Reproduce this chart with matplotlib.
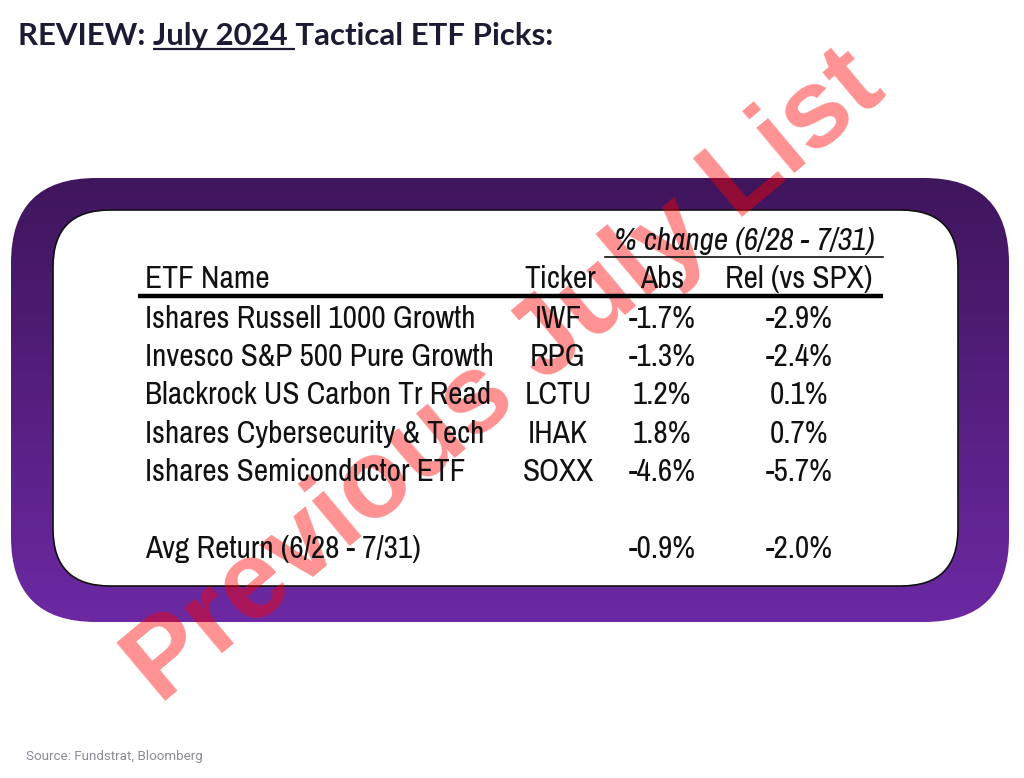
import numpy as np
import matplotlib
matplotlib.use("Agg")
import matplotlib.pyplot as plt
from matplotlib.patches import FancyBboxPatch
from matplotlib.colors import LinearSegmentedColormap
from matplotlib import font_manager

# Table data
etf_names = [
    "Ishares Russell 1000 Growth",
    "Invesco S&P 500 Pure Growth",
    "Blackrock US Carbon Tr Read",
    "Ishares Cybersecurity & Tech",
    "Ishares Semiconductor ETF",
]
tickers = ["IWF", "RPG", "LCTU", "IHAK", "SOXX"]
abs_chg = [-1.7, -1.3, 1.2, 1.8, -4.6]
rel_chg = [-2.9, -2.4, 0.1, 0.7, -5.7]
period = "6/28 - 7/31"

avg_abs = np.mean(abs_chg)
avg_rel = np.mean(rel_chg)

# narrow face for the table, whatever is installed
names_avail = {f.name for f in font_manager.fontManager.ttflist}
wanted = ["Liberation Sans Narrow", "Arial Narrow", "Archivo Narrow", "Roboto Condensed", "Liberation Sans"]
table_font = [f for f in wanted if f in names_avail][:1] + ["DejaVu Sans"]

fig = plt.figure(figsize=(10.24, 7.78), dpi=100)
ax = fig.add_axes([0, 0, 1, 1])
ax.set_xlim(0, 1024)
ax.set_ylim(778, 0)
ax.axis("off")
renderer = fig.canvas.get_renderer()


def width_of(s, **kw):
    t = ax.text(0, 0, s, **kw)
    w = t.get_window_extent(renderer).width
    t.remove()
    return w


# Title, sized to the reference width
title = "REVIEW: July 2024 Tactical ETF Picks:"
title_kw = dict(fontweight="bold", family=["Lato", "DejaVu Sans"])
tsize = 24 * 535 / width_of(title, fontsize=24, **title_kw)
title_kw["fontsize"] = tsize
ax.text(18, 45, title, color="#1b1b33", va="baseline", ha="left", **title_kw)
space = width_of("a a", **title_kw) - width_of("aa", **title_kw)
u0 = 18 + width_of("REVIEW:", **title_kw) + space
u1 = 18 + width_of("REVIEW: July 2024", **title_kw) + space
ax.plot([u0, u1], [49, 49], color="#1b1b33", lw=1.6, solid_capstyle="butt")

# Purple frame with vertical gradient
outer = FancyBboxPatch((11, 178), 998, 444, boxstyle="round,pad=0,rounding_size=85",
                       facecolor="none", edgecolor="none")
ax.add_patch(outer)
cmap = LinearSegmentedColormap.from_list("purp", ["#3f155c", "#6c29a3"])
grad = np.linspace(0, 1, 256).reshape(-1, 1)
im = ax.imshow(grad, extent=(11, 1009, 622, 178), aspect="auto", cmap=cmap,
               origin="upper", zorder=1)
im.set_clip_path(outer)

inner = FancyBboxPatch((53, 210), 905, 376, boxstyle="round,pad=0,rounding_size=57",
                       facecolor="white", edgecolor="#111111", lw=1.2, zorder=2)
ax.add_patch(inner)

# Watermark
ax.text(506, 378, "Previous July List", fontsize=80, fontweight="bold",
        family=["Liberation Sans", "DejaVu Sans"], color="red", alpha=0.43,
        rotation=40, rotation_mode="anchor", ha="center", va="center", zorder=3)

# table font size fitted to the first name's width in the reference
fsize = 22 * 330 / width_of(etf_names[0], family=table_font, fontsize=22)
tkw = dict(family=table_font, fontsize=fsize, color="#111111", va="baseline", zorder=4)

# header
ax.text(744, 250, f"% change ({period})", ha="center", style="italic", **tkw)
ax.plot([605, 883], [257, 257], color="#111111", lw=1.2, zorder=4)
ax.text(145, 288, "ETF Name", ha="left", **tkw)
ax.text(560, 288, "Ticker", ha="center", **tkw)
ax.text(662, 288, "Abs", ha="center", **tkw)
ax.text(799, 288, "Rel (vs SPX)", ha="center", **tkw)
ax.plot([138, 883], [296, 296], color="black", lw=3.2, solid_capstyle="butt", zorder=4)

# rows
for i, (n, t, a, r) in enumerate(zip(etf_names, tickers, abs_chg, rel_chg)):
    y = 328 + 38.2 * i
    ax.text(145, y, n, ha="left", **tkw)
    ax.text(558, y, t, ha="center", **tkw)
    ax.text(662, y, f"{a:.1f}%", ha="center", **tkw)
    ax.text(799, y, f"{r:.1f}%", ha="center", **tkw)

ax.text(145, 558, f"Avg Return ({period})", ha="left", **tkw)
ax.text(662, 558, f"{avg_abs:.1f}%", ha="center", **tkw)
ax.text(799, 558, f"{avg_rel:.1f}%", ha="center", **tkw)

ax.text(26, 760, "Source: Fundstrat, Bloomberg", fontsize=9.6,
        family=["Roboto", "DejaVu Sans"], color="#8a8a99", va="baseline", ha="left")

fig.savefig("out.png", dpi=100)
